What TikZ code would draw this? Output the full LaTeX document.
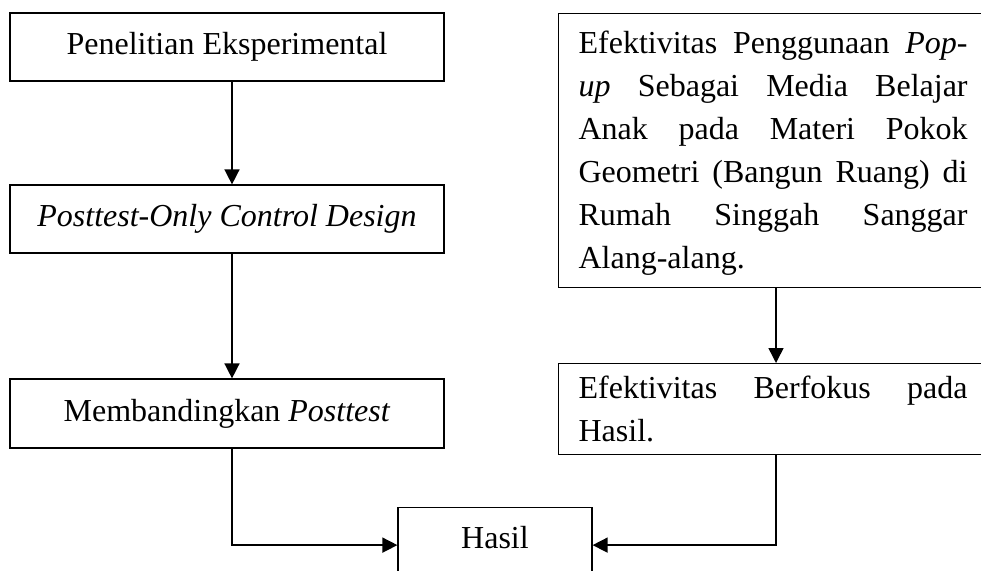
\documentclass[tikz,border=0pt]{standalone}
\usepackage{fontspec}
\setmainfont{Liberation Serif}
\usetikzlibrary{arrows.meta}
\tikzset{
 box/.style={draw, line width=1.2pt, rectangle, inner sep=0pt, font=\fontsize{32}{43}\selectfont},
 lbox/.style={box, minimum width=434pt, minimum height=68pt},
 rbox/.style={box, anchor=north west, text width=389pt, inner xsep=20pt, align=left},
 arr/.style={line width=1.5pt, -{Triangle[length=15pt,width=15pt]}},
}
\newcommand\fitline[1]{\leavevmode\hbox to 389pt{#1}}
\begin{document}
\begin{tikzpicture}[x=1pt,y=-1pt]
\useasboundingbox (0,0) rectangle (981,570);
\clip (0,0) rectangle (981,570);
\node[lbox] (b1) at (227,47) {Penelitian Eksperimental};
\node[lbox] (b2) at (227,219) {\textit{Posttest-Only Control Design}};
\node[lbox, minimum height=69pt] (b3) at (227,413.5) {Membandingkan \textit{Posttest}};
\node[rbox, minimum height=274pt] (r1) at (558,13) {\fitline{\rule{0pt}{28pt}Efektivitas\hfill Penggunaan\hfill \textit{Pop-}}\\
\fitline{\textit{up}\hfill Sebagai\hfill Media\hfill Belajar}\\
\fitline{Anak\hfill pada\hfill Materi\hfill Pokok}\\
\fitline{Geometri\hfill (Bangun\hfill Ruang)\hfill di}\\
\fitline{Rumah\hfill Singgah\hfill Sanggar}\\
Alang-alang.\rule[-7pt]{0pt}{7pt}};
\node[rbox, minimum height=91pt] (r2) at (558,363) {\fitline{\rule{0pt}{24pt}Efektivitas\hfill Berfokus\hfill pada}\\
Hasil.\rule[-2pt]{0pt}{2pt}};
\node[box, anchor=north, minimum width=194pt, text height=21pt, text depth=15pt, inner ysep=19.5pt] (h) at (495,507) {Hasil};
\coordinate (lx) at (232,0);
\coordinate (rx) at (776,0);
\draw[arr] (b1.south -| lx) -- (b2.north -| lx);
\draw[arr] (b2.south -| lx) -- (b3.north -| lx);
\draw[arr] (r1.south -| rx) -- (r2.north -| rx);
\draw[arr] (b3.south -| lx) |- (h.west);
\draw[arr] (r2.south -| rx) |- (h.east);
\end{tikzpicture}
\end{document}
